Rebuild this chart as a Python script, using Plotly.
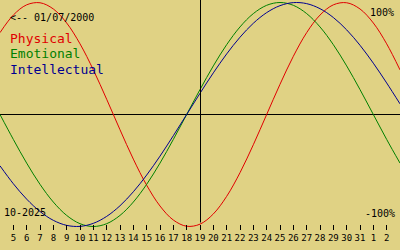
import plotly.graph_objects as go

# offsets in days from "today" (19 Oct 2025)
offsets = list(range(-15, 16))
today = 0
tick_offsets = list(range(-14, 15))
tick_labels = ['5', '6', '7', '8', '9', '10', '11', '12', '13', '14', '15', '16', '17', '18',
               '19', '20', '21', '22', '23', '24', '25', '26', '27', '28', '29', '30', '31', '1', '2']

physical = [0.7308, 0.8879, 0.9791, 0.9977, 0.9423, 0.8170, 0.6311, 0.3984, 0.1362, -0.1362,
            -0.3984, -0.6311, -0.8170, -0.9423, -0.9977, -0.9791, -0.8879, -0.7308, -0.5196,
            -0.2698, 0.0, 0.2698, 0.5196, 0.7308, 0.8879, 0.9791, 0.9977, 0.9423, 0.8170,
            0.6311, 0.3984]
emotional = [0.0, -0.2225, -0.4339, -0.6235, -0.7818, -0.9010, -0.9749, -1.0, -0.9749, -0.9010,
             -0.7818, -0.6235, -0.4339, -0.2225, 0.0, 0.2225, 0.4339, 0.6235, 0.7818, 0.9010,
             0.9749, 1.0, 0.9749, 0.9010, 0.7818, 0.6235, 0.4339, 0.2225, 0.0, -0.2225, -0.4339]
intellectual = [-0.4582, -0.6182, -0.7557, -0.8660, -0.9450, -0.9898, -0.9989, -0.9718, -0.9096,
                -0.8146, -0.6901, -0.5406, -0.3717, -0.1893, 0.0, 0.1893, 0.3717, 0.5406, 0.6901,
                0.8146, 0.9096, 0.9718, 0.9989, 0.9898, 0.9450, 0.8660, 0.7557, 0.6182, 0.4582,
                0.2817, 0.0951]

series_names = ['Physical', 'Emotional', 'Intellectual']
series_colors = ['#e00000', '#008000', '#000090']
series_values = [physical, emotional, intellectual]

birth_text = '<-- 01/07/2000'
month_text = '10-2025'
top_text = '100%'
bottom_text = '-100%'

BG = '#e0d284'
MONO = 'DejaVu Sans Mono, monospace'

fig = go.Figure()
for name, color, vals in zip(series_names, series_colors, series_values):
    fig.add_trace(go.Scatter(x=offsets, y=vals, mode='lines', name=name,
                             line=dict(color=color, width=1, shape='spline'),
                             showlegend=False, hoverinfo='skip'))

half_px = 0.5 * 30 / 400
fig.add_shape(type='line', xref='x', yref='paper', x0=today + half_px, x1=today + half_px,
              y0=0.11, y1=1, line=dict(color='black', width=1))

anns = [
    dict(text=birth_text, x=9, y=17, size=10, color='black', xanchor='left'),
    dict(text=top_text, x=395, y=12, size=10, color='black', xanchor='right'),
    dict(text=bottom_text, x=396, y=213, size=10, color='black', xanchor='right'),
    dict(text=month_text, x=3, y=212, size=10, color='black', xanchor='left'),
]
for i, (name, color) in enumerate(zip(series_names, series_colors)):
    anns.append(dict(text=name, x=9, y=38 + 15.5 * i, size=13, color=color, xanchor='left'))

for a in anns:
    fig.add_annotation(text=a['text'], xref='paper', yref='paper',
                       x=a['x'] / 400, y=1 - a['y'] / 250, xanchor=a['xanchor'], yanchor='middle',
                       showarrow=False, font=dict(family=MONO, size=a['size'], color=a['color']),
                       borderpad=0)

fig.update_layout(
    width=400, height=250, margin=dict(l=0, r=0, t=0, b=0),
    paper_bgcolor=BG, plot_bgcolor=BG,
    xaxis=dict(range=[-15, 15], domain=[0, 1], anchor='free', position=0.08,
               tickmode='array', tickvals=tick_offsets, ticktext=tick_labels, tickangle=0,
               ticks='inside', ticklen=5, tickcolor='black', tickwidth=1,
               showgrid=False, zeroline=False, showline=False,
               tickfont=dict(family=MONO, size=9, color='black'), ticklabelstandoff=1,
               fixedrange=True),
    yaxis=dict(range=[-1.2098, 1.0223], domain=[0, 1], showgrid=False, showticklabels=False,
               ticks='', zeroline=True, zerolinecolor='black', zerolinewidth=1, showline=False,
               fixedrange=True),
)

fig.write_html('out.html')
